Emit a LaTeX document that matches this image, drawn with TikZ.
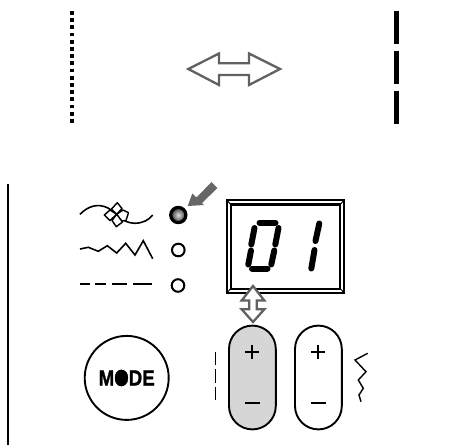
\documentclass[tikz,border=0pt]{standalone}
\usepackage{fontspec}
\setmainfont{Liberation Sans}
\tikzset{
  ink/.style={line width=1.6pt,black},
  hollowarrow/.style={draw=black!62,line width=2.3pt,fill=white,miter limit=10},
  keycap/.style={line width=1.9pt,draw=black},
  seg/.style={line width=6pt,line cap=round,black},
  signlabel/.style={line width=2pt,black},
  petal/.style={line width=1.4pt,line join=round,fill=white},
}
\begin{document}
\begin{tikzpicture}[x=1pt,y=-1pt]
\useasboundingbox (0,0) rectangle (458,445);
% top
\draw[line width=4.2pt,dash pattern=on 3.7pt off 3.5pt] (71.7,11) -- (71.7,124.5);
\draw[line width=4.4pt] (396.5,11) -- (396.5,44);
\draw[line width=4.4pt] (396.5,51) -- (396.5,84);
\draw[line width=4.4pt] (396.5,91) -- (396.5,124);
\draw[hollowarrow] (188.3,69) -- (219,53.5) -- (219,63.3) -- (249,63.3) -- (249,53.5) -- (280,69) -- (249,85) -- (249,75) -- (219,75) -- (219,85) -- cycle;
% left rule
\draw[line width=2pt] (8,184) -- (8,445);
% stitch icons
\draw[ink] (80,214.3) .. controls (88,206) and (98,203) .. (108,208) .. controls (118,214) and (122,223) .. (135,223.3) .. controls (143,223) and (149,220) .. (152.7,215);
\draw[petal] (116.7,214.3) -- (111.5,209) -- (117.3,202.7) -- (122,208.5) -- cycle;
\draw[petal] (116.7,214.3) -- (123,210) -- (128.5,212.7) -- (126,220.5) -- (121.5,221) -- cycle;
\draw[petal] (116.7,214.3) -- (110,210) -- (104.3,215) -- (110,220.5) -- cycle;
\draw[petal] (116.7,214.3) -- (112,220.5) -- (116.3,226.7) -- (122.5,222) -- cycle;
\draw[ink] (80,249) -- (88.3,247.3) -- (98.3,251.3) -- (107.3,245.7) -- (116.7,253) -- (125.7,243.3) -- (135,255) -- (143.3,240.7) -- (152.7,258.7);
\draw[ink] (80,283.7) -- (90,283.7) (95,283.7) -- (106,283.7) (111.7,283.7) -- (126.7,283.7) (133,283.7) -- (152.3,283.7);
% LEDs
\shade[inner color=black!12,outer color=black!80] (178.3,215) circle (7.6);
\draw[line width=3.2pt] (178.3,215) circle (7.6);
\draw[line width=2pt] (178.3,250) circle (6.3);
\draw[line width=2pt] (178,285.5) circle (6.3);
% pointer
\fill[black!60] (187.7,206) -- (192.3,193.5) -- (196.5,197.5) -- (211.5,182) -- (217.5,188) -- (202,203) -- (204,205) -- cycle;
% display
\draw[line width=1.7pt] (226.9,200) rectangle (344,292.7);
\draw[line width=2.3pt] (230.7,204.5) rectangle (340.3,288.7);
\draw[line width=1pt] (226.9,200) -- (230.7,204.5) (344,200) -- (340.3,204.5) (226.9,292.7) -- (230.7,288.7) (344,292.7) -- (340.3,288.7);
% digit 0
\draw[seg] (259.5,222.8) -- (275.5,222.8);
\draw[seg] (252,268.5) -- (267.5,268.5);
\draw[seg] (254.5,228) -- (251.3,244.5);
\draw[seg] (278.5,228) -- (275.3,244.5);
\draw[seg] (251,250.5) -- (248.3,264.5);
\draw[seg] (274.3,250.5) -- (271.3,264.5);
% digit 1
\draw[seg] (319.3,223.5) -- (315.5,241);
\draw[seg] (314.5,250) -- (311.3,268.5);
% double arrow
\draw[hollowarrow] (253,286) -- (264.3,300.5) -- (256.7,300.5) -- (256.7,309.3) -- (264.3,309.3) -- (253,322) -- (241.7,309.3) -- (249.3,309.3) -- (249.3,300.5) -- (241.7,300.5) -- cycle;
% keys
\draw[keycap,fill=black!16] (229,349) arc[start angle=180,end angle=360,radius=23.4] -- (275.8,406) arc[start angle=0,end angle=180,radius=23.4] -- cycle;
\draw[keycap] (295,349) arc[start angle=180,end angle=360,radius=23.4] -- (341.8,406) arc[start angle=0,end angle=180,radius=23.4] -- cycle;
\draw[signlabel] (245.3,352.3) -- (259.3,352.3) (252.3,345.3) -- (252.3,359.3);
\draw[signlabel] (311.3,352.3) -- (325.3,352.3) (318.3,345.3) -- (318.3,359.3);
\draw[signlabel] (245,403.3) -- (260,403.3);
\draw[signlabel] (311,403.3) -- (326,403.3);
% small icons
\draw[line width=1.4pt,dash pattern=on 13.3pt off 4.4pt] (215.7,351.7) -- (215.7,401);
\draw[line width=1.4pt] (367.7,353.3) -- (355,360) -- (366,371.7) -- (358.3,380) -- (363.3,388.3) -- (359,395) -- (361,401.7);
% mode
\node[draw,circle,line width=1.9pt,minimum size=84pt,inner sep=0pt] (mode) at (126.7,377.9) {};
\fill (121.4,378) ellipse (6.4 and 8.4);
\node[font=\bfseries\fontsize{22}{22}\selectfont\addfontfeature{FakeBold=1.2},inner sep=0pt,xscale=.85] (modetext) at (126.7,378) {MODE};
\end{tikzpicture}
\end{document}
